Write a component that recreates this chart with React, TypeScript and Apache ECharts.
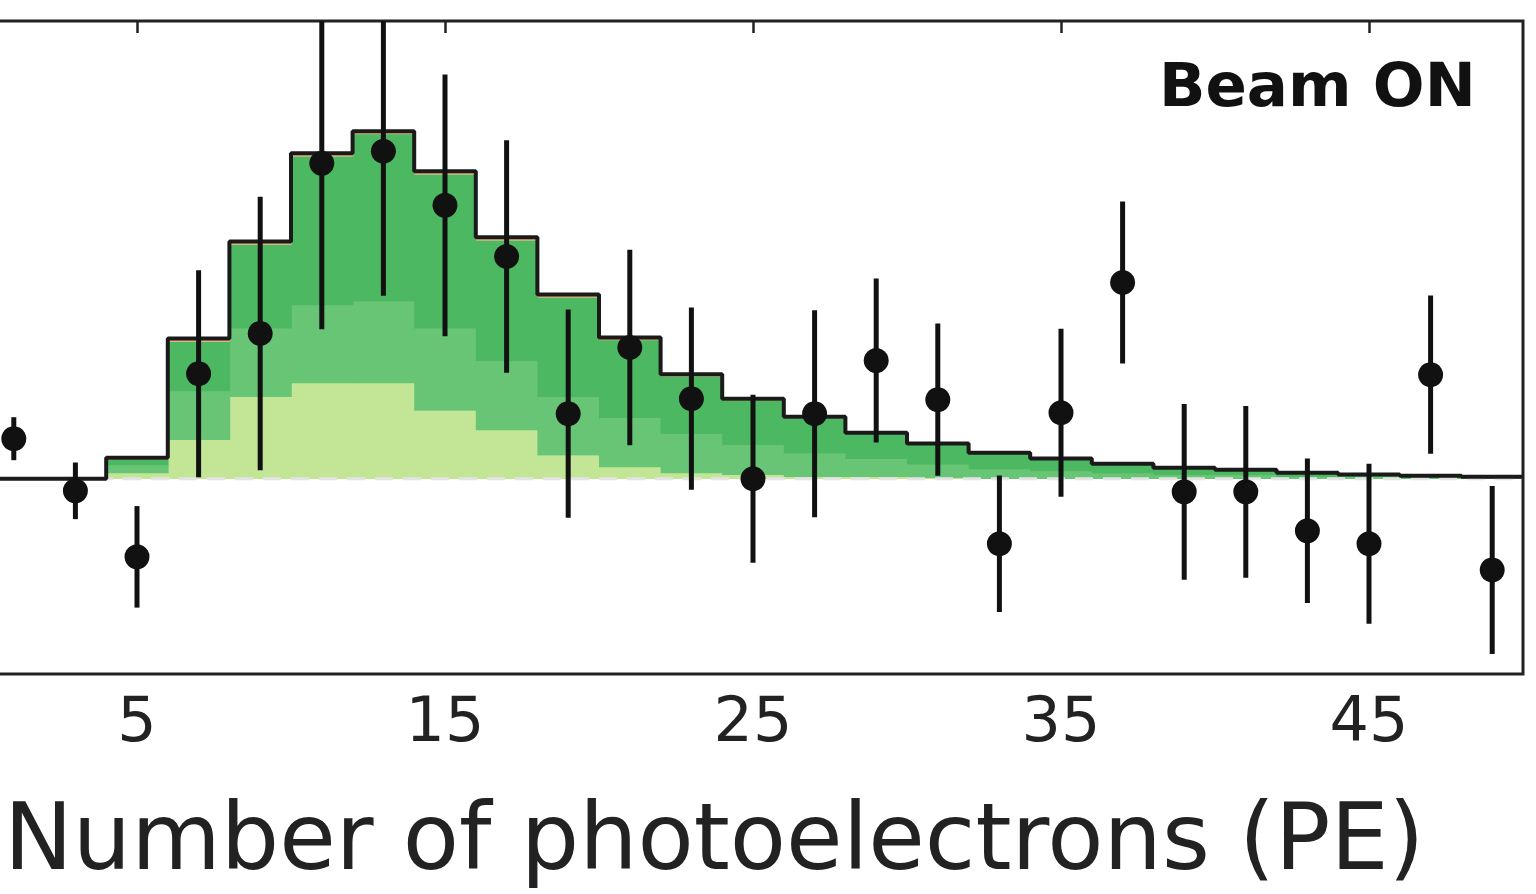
import React, { useEffect, useRef } from "react";
import * as echarts from "echarts";

// Bin edges (PE) of the 2-PE wide histogram bins
const binEdges = [0, 2, 4, 6, 8, 10, 12, 14, 16, 18, 20, 22, 24, 26, 28, 30, 32, 34, 36, 38, 40, 42, 44, 46, 48, 50];

// Stacked MC contributions per bin (bottom to top)
const layerPale = [0, 0, 0.03, 0.2, 0.42, 0.49, 0.49, 0.35, 0.25, 0.12, 0.06, 0.03, 0.02, 0.01, 0.01, 0.005, 0, 0, 0, 0, 0, 0, 0, 0, 0];
const layerMedium = [0, 0, 0.04, 0.25, 0.35, 0.4, 0.42, 0.42, 0.35, 0.3, 0.25, 0.2, 0.15, 0.12, 0.09, 0.07, 0.05, 0.04, 0.03, 0.02, 0.02, 0.01, 0.01, 0.005, 0.005];
const layerDark = [0, 0, 0.028, 0.253, 0.43, 0.762, 0.855, 0.789, 0.621, 0.509, 0.401, 0.295, 0.23, 0.18, 0.13, 0.1, 0.079, 0.06, 0.044, 0.034, 0.024, 0.02, 0.01, 0.009, 0.005];
const layerOrange = [0, 0, 0.01, 0.015, 0.015, 0.015, 0.015, 0.015, 0.015, 0.015, 0.012, 0.01, 0.01, 0.008, 0.006, 0.005, 0.004, 0.003, 0.003, 0.002, 0.002, 0.001, 0.001, 0.001, 0];

// Data points (bin centres), values and errors
const pointX = [1, 3, 5, 7, 9, 11, 13, 15, 17, 19, 21, 23, 25, 27, 29, 31, 33, 35, 37, 39, 41, 43, 45, 47, 49];
const pointY = [0.205, -0.062, -0.4, 0.538, 0.744, 1.615, 1.677, 1.4, 1.138, 0.333, 0.672, 0.41, 0.0, 0.333, 0.605, 0.405, -0.333, 0.338, 1.005, -0.067, -0.067, -0.267, -0.333, 0.533, -0.467];
const pointErr = [0.11, 0.145, 0.26, 0.53, 0.7, 0.85, 0.74, 0.67, 0.595, 0.533, 0.5, 0.467, 0.43, 0.53, 0.42, 0.39, 0.35, 0.43, 0.415, 0.45, 0.44, 0.37, 0.41, 0.405, 0.43];

const xTicks = [5, 15, 25, 35, 45];
const xTitle = "Number of photoelectrons (PE)";
const panelLabel = "Beam ON";

const FONT = "DejaVu Sans";
const SHIFT = 17; // the frame's left edge lies just outside the picture

export default function App() {
  const ref = useRef<HTMLDivElement>(null);
  useEffect(() => {
    if (!ref.current) return;
    const chart = echarts.init(ref.current, null, { renderer: "svg" });

    const layers = [
      { name: "pale", values: layerPale, color: "#c2e696" },
      { name: "medium", values: layerMedium, color: "#68c575" },
      { name: "dark", values: layerDark, color: "#4cb862" },
      { name: "orange", values: layerOrange, color: "#f0a878" },
    ];
    const bases = binEdges.slice(0, -1).map(() => 0);
    const layerSeries: any[] = layers.map((L) => {
      const data = L.values.map((v, i) => {
        const d = [binEdges[i], binEdges[i + 1], bases[i], bases[i] + v];
        bases[i] += v;
        return d;
      });
      return {
        type: "custom",
        name: L.name,
        clip: true,
        z: 2,
        data,
        renderItem: (params: any, api: any) => {
          const y0 = api.value(2);
          const y1 = api.value(3);
          if (y1 - y0 <= 0) return null;
          const p0 = api.coord([api.value(0), y1]);
          const p1 = api.coord([api.value(1), y0]);
          return {
            type: "rect",
            shape: { x: p0[0], y: p0[1], width: p1[0] - p0[0] + 0.8, height: p1[1] - p0[1] + 0.3 },
            style: { fill: L.color },
          };
        },
      };
    });
    const totals = bases.slice();
    const outline = binEdges.map((e, i) => [e, totals[Math.min(i, totals.length - 1)]]);

    const option: any = {
      animation: false,
      backgroundColor: "#ffffff",
      grid: {
        left: 0,
        right: 13,
        top: 21,
        bottom: 220,
        show: true,
        borderColor: "#222",
        borderWidth: 3,
        backgroundColor: "transparent",
      },
      xAxis: [
        {
          type: "value",
          min: 0,
          max: 50,
          position: "bottom",
          axisLine: { show: false },
          splitLine: { show: false },
          axisTick: { show: true, inside: true, length: 12, customValues: xTicks, lineStyle: { color: "#222", width: 2.5 } },
          axisLabel: {
            show: true,
            customValues: xTicks,
            margin: 14,
            fontSize: 62,
            fontFamily: FONT,
            color: "#222",
          },
        },
        {
          type: "value",
          min: 0,
          max: 50,
          position: "top",
          axisLine: { show: false },
          splitLine: { show: false },
          axisTick: { show: true, inside: true, length: 12, customValues: xTicks, lineStyle: { color: "#222", width: 2.5 } },
          axisLabel: { show: false },
        },
      ],
      yAxis: [
        {
          type: "value",
          min: -1,
          max: 2.344,
          interval: 1,
          position: "right",
          axisLine: { show: false },
          splitLine: { show: false },
          axisTick: { show: true, inside: true, length: 13, lineStyle: { color: "#222", width: 2.5 } },
          axisLabel: { show: false },
        },
      ],
      series: [
        ...layerSeries,
        {
          type: "line",
          name: "zero",
          data: [[0, 0], [50, 0]],
          symbol: "none",
          z: 3,
          lineStyle: { color: "#e4e4e4", width: 3, type: [18, 10] },
        },
        {
          type: "line",
          name: "mc-outline",
          data: outline,
          step: "end",
          symbol: "none",
          z: 4,
          lineStyle: { color: "#1a1a1a", width: 4 },
        },
        {
          type: "custom",
          name: "errors",
          clip: true,
          z: 5,
          data: pointX.map((x, i) => [x, pointY[i], pointErr[i]]),
          renderItem: (params: any, api: any) => {
            const x = api.value(0);
            const y = api.value(1);
            const e = api.value(2);
            const a = api.coord([x, y - e]);
            const b = api.coord([x, y + e]);
            return {
              type: "line",
              shape: { x1: a[0], y1: a[1], x2: b[0], y2: b[1] },
              style: { stroke: "#111", lineWidth: 5 },
            };
          },
        },
        {
          type: "scatter",
          name: "data",
          z: 6,
          symbol: "circle",
          symbolSize: 25,
          data: pointX.map((x, i) => [x, pointY[i]]),
          itemStyle: { color: "#111", opacity: 1 },
        },
      ],
      graphic: [
        {
          type: "text",
          x: 1159 + SHIFT,
          y: 84,
          style: {
            text: panelLabel,
            font: `bold 61px "${FONT}"`,
            fill: "#111",
            textAlign: "left",
            textVerticalAlign: "middle",
          },
        },
        {
          type: "text",
          x: 4 + SHIFT,
          y: 837,
          style: {
            text: xTitle,
            font: `92px "${FONT}"`,
            fill: "#222",
            textAlign: "left",
            textVerticalAlign: "middle",
          },
        },
      ],
    };
    chart.setOption(option);
    return () => chart.dispose();
  }, []);
  return (
    <div
      ref={ref}
      style={{ position: "fixed", left: -SHIFT, top: 0, width: 1536 + SHIFT, height: 894, background: "#fff" }}
    />
  );
}
